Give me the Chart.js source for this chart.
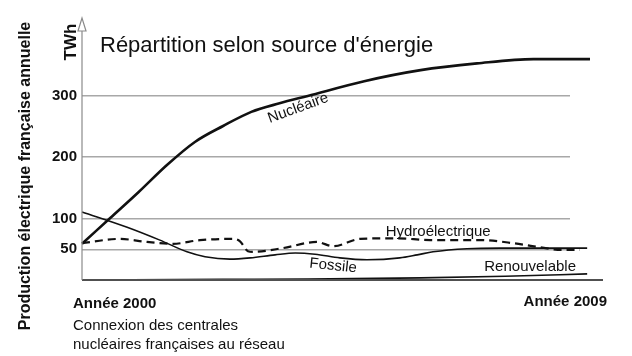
<!DOCTYPE html>
<html>
<head>
<meta charset="utf-8">
<script src="https://cdn.jsdelivr.net/npm/chart.js@4"></script>
<style>
html,body{margin:0;padding:0;background:#fff;}
#wrap{width:632px;height:356px;}
</style>
</head>
<body>
<div id="wrap"><canvas id="c" width="632" height="356"></canvas></div>
<script>
// ---- data ----
const yTicks = [50, 100, 200, 300];
const xLabels = ['Année 2000', 'Année 2009'];
const chartTitle = "Répartition selon source d'énergie";
const yTitle = 'Production électrique française annuelle';
const unit = 'TWh';
const noteLines = ['Connexion des centrales', 'nucléaires françaises au réseau'];

const nucYears = [2000, 2000.5, 2001, 2001.5, 2002, 2002.5, 2003, 2003.5, 2004, 2005, 2006, 2007, 2008, 2009];
const nucleaire = [59, 101, 143, 187, 225, 251, 274, 288, 300, 324, 342, 353, 360, 360];

const hydroYears = [2000, 2000.67, 2001.15, 2001.61, 2002.09, 2002.68, 2002.8, 2002.94, 2003.03, 2003.56, 2004.16, 2004.45, 2004.93, 2005.58, 2006.17, 2007.05, 2007.64, 2008.06, 2008.52, 2008.82];
const hydro = [60, 67, 62, 59, 65, 67, 63, 47, 46, 52, 62, 55, 67, 68, 65, 65, 60, 54, 49, 49];

const fossYears = [2000, 2000.8, 2001.38, 2001.86, 2002.18, 2002.62, 2002.98, 2003.42, 2003.78, 2004.13, 2004.57, 2005.05, 2005.63, 2005.94, 2006.22, 2006.82, 2007.41, 2008.11, 2008.95];
const fossile = [111, 86, 65, 46, 38, 34, 36, 41, 44, 42, 36, 33, 36, 41, 46, 51, 52, 52, 52];

const renYears = [2000, 2002.5, 2004, 2006, 2007.5, 2008.95];
const renouvelable = [0, 1, 1.5, 3.5, 6, 10];

// curve labels in data coordinates
const curveLabels = [
  {text: 'Nucléaire', year: 2003.83, value: 280, angle: -20},
  {text: 'Hydroélectrique', year: 2006.31, value: 78, angle: 0},
  {text: 'Fossile', year: 2004.45, value: 23, angle: 6},
  {text: 'Renouvelable', year: 2007.94, value: 21, angle: 0}
];

const pts = (xs, ys) => xs.map((x, i) => ({x: x, y: ys[i]}));
const FONT = "'Liberation Sans', Arial, sans-serif";

const decor = {
  id: 'decor',
  afterDraw(chart) {
    const ctx = chart.ctx;
    const ca = chart.chartArea;
    const xs = chart.scales.x, ys = chart.scales.y;
    ctx.save();
    // bottom axis
    ctx.strokeStyle = '#505050';
    ctx.lineWidth = 2;
    ctx.beginPath();
    ctx.moveTo(ca.left, ca.bottom);
    ctx.lineTo(603, ca.bottom);
    ctx.stroke();
    // arrow head on y axis
    ctx.strokeStyle = '#8a8a8a';
    ctx.fillStyle = '#fff';
    ctx.lineWidth = 1.2;
    ctx.beginPath();
    ctx.moveTo(ca.left - 4, ca.top + 13);
    ctx.lineTo(ca.left, ca.top);
    ctx.lineTo(ca.left + 4, ca.top + 13);
    ctx.closePath();
    ctx.fill();
    ctx.stroke();
    ctx.beginPath();
    ctx.moveTo(ca.left, ca.top + 13);
    ctx.lineTo(ca.left, ca.bottom);
    ctx.stroke();

    ctx.fillStyle = '#111';
    // title
    ctx.font = '22px ' + FONT;
    ctx.textAlign = 'left';
    ctx.textBaseline = 'alphabetic';
    ctx.fillText(chartTitle, 100, 52);

    // y title
    ctx.save();
    ctx.translate(30, 176);
    ctx.rotate(-Math.PI / 2);
    ctx.font = 'bold 16px ' + FONT;
    ctx.textAlign = 'center';
    ctx.fillText(yTitle, 0, 0);
    ctx.restore();

    // unit
    ctx.save();
    ctx.translate(76, 42);
    ctx.rotate(-Math.PI / 2);
    ctx.font = 'bold 17px ' + FONT;
    ctx.textAlign = 'center';
    ctx.fillText(unit, 0, 0);
    ctx.restore();

    // x labels
    ctx.font = 'bold 15px ' + FONT;
    ctx.textAlign = 'left';
    ctx.fillText(xLabels[0], 73, 308);
    ctx.textAlign = 'right';
    ctx.fillText(xLabels[1], 607, 306);
    ctx.font = '15px ' + FONT;
    ctx.textAlign = 'left';
    ctx.fillText(noteLines[0], 73, 330);
    ctx.fillText(noteLines[1], 73, 349);

    // curve labels
    ctx.font = '15px ' + FONT;
    ctx.textAlign = 'center';
    ctx.textBaseline = 'middle';
    curveLabels.forEach(l => {
      ctx.save();
      ctx.translate(xs.getPixelForValue(l.year), ys.getPixelForValue(l.value));
      ctx.rotate(l.angle * Math.PI / 180);
      ctx.fillText(l.text, 0, 0);
      ctx.restore();
    });
    ctx.restore();
  }
};

const common = {fill: false, pointRadius: 0, borderColor: '#111', cubicInterpolationMode: 'monotone', clip: false};

new Chart(document.getElementById('c'), {
  type: 'line',
  data: {
    datasets: [
      Object.assign({label: 'Nucléaire', data: pts(nucYears, nucleaire), borderWidth: 2.6}, common),
      Object.assign({label: 'Hydroélectrique', data: pts(hydroYears, hydro), borderWidth: 2.2, borderDash: [8, 5]}, common),
      Object.assign({label: 'Fossile', data: pts(fossYears, fossile), borderWidth: 1.6}, common),
      Object.assign({label: 'Renouvelable', data: pts(renYears, renouvelable), borderWidth: 1.6}, common)
    ]
  },
  options: {
    responsive: false,
    animation: false,
    devicePixelRatio: 1,
    layout: {padding: {top: 18, right: 62, bottom: 76, left: 0}},
    plugins: {legend: {display: false}, tooltip: {enabled: false}, title: {display: false}},
    scales: {
      x: {type: 'linear', min: 2000, max: 2008.646, display: false},
      y: {
        type: 'linear', min: 0, max: 427,
        afterBuildTicks: s => { s.ticks = yTicks.map(v => ({value: v})); },
        afterFit: s => { s.width = 82; },
        ticks: {color: '#111', font: {family: FONT, size: 15, weight: 'bold'}, padding: 5},
        grid: {color: '#a8a8a8', lineWidth: 1.6, drawTicks: false},
        border: {display: false}
      }
    }
  },
  plugins: [decor]
});
</script>
</body>
</html>
